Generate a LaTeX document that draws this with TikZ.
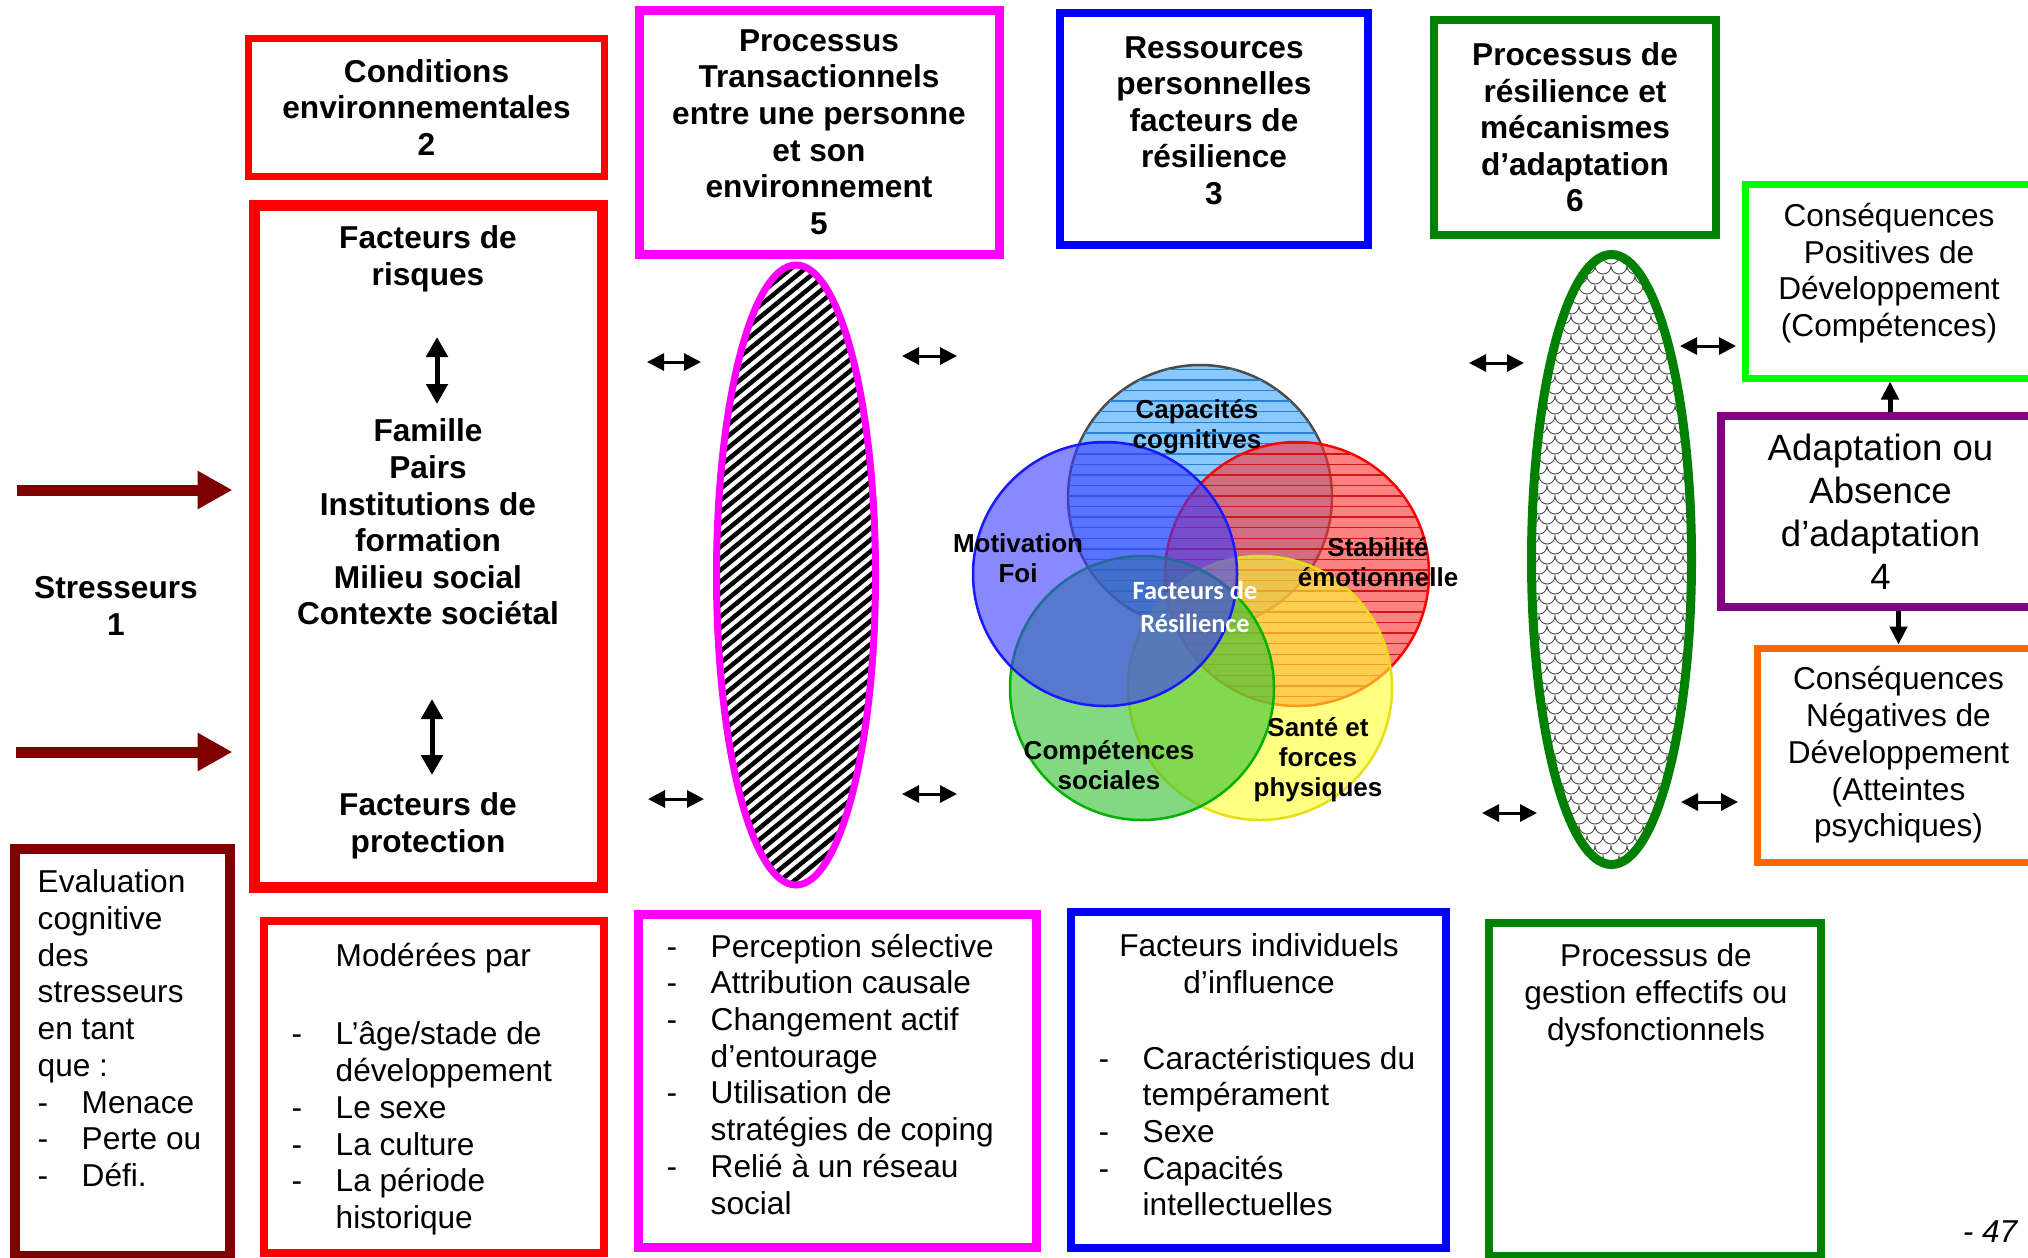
\documentclass[tikz,border=0pt]{standalone}
\usepackage{fontspec}
\setmainfont{Liberation Sans}
\newfontfamily\calib{Carlito}
\usetikzlibrary{shapes.geometric, arrows.meta, patterns}

\definecolor{dred}{HTML}{800000}
\definecolor{purered}{HTML}{FF0000}
\definecolor{mag}{HTML}{FF00FF}
\definecolor{pureblue}{HTML}{0000FF}
\definecolor{dgreen}{HTML}{008000}
\definecolor{lgreen}{HTML}{00FF00}
\definecolor{purp}{HTML}{800080}
\definecolor{orng}{HTML}{FF6600}
\definecolor{cogfill}{HTML}{3DA5FF}
\definecolor{cogline}{HTML}{2A80D0}
\definecolor{motfill}{HTML}{3A3AFF}
\definecolor{stabfill}{HTML}{FF3030}
\definecolor{stabline}{HTML}{D01818}
\definecolor{compfill}{HTML}{30C030}
\definecolor{santefill}{HTML}{FFFF30}

\tikzstyle{box} = [rectangle, draw, inner sep=0pt, align=center]
\tikzstyle{head} = [font=\fontsize{9}{10.4}\selectfont\bfseries, align=center, inner sep=0pt]
\tikzstyle{plain} = [font=\fontsize{9}{10.45}\selectfont, align=center, inner sep=0pt]
\tikzstyle{list} = [font=\fontsize{9}{10.45}\selectfont, align=left, inner sep=0pt, anchor=north west]
\tikzstyle{venn} = [circle, minimum size=26.4mm, fill opacity=0.6, line width=0.25mm]
\tikzstyle{vennlab} = [font=\fontsize{7.4}{8.5}\selectfont\bfseries, align=center, inner sep=0pt]
\tikzstyle{dbl} = [line width=0.3mm, {Triangle[length=1.7mm,width=1.7mm]}-{Triangle[length=1.7mm,width=1.7mm]}]
\tikzstyle{vdbl} = [line width=0.5mm, {Triangle[length=2mm,width=2.1mm]}-{Triangle[length=2mm,width=2.1mm]}]
\tikzstyle{stress} = [dred, line width=1.1mm, shorten >=1.6mm, -{Triangle[length=3.5mm,width=3.6mm]}]
\tikzstyle{updown} = [line width=0.5mm, -{Triangle[length=1.8mm,width=1.7mm]}]

\newcommand{\dashitem}{\makebox[4.4mm][l]{-}}
\newcommand{\dashgap}{\hspace*{4.4mm}}

\begin{document}
\begin{tikzpicture}[x=0.1mm, y=-0.1mm]
\useasboundingbox (0,0) rectangle (2028,1257);
\fill[white] (0,0) rectangle (2028,1257);

% header boxes
\node[box, head, draw=purered, line width=0.7mm, minimum width=35.6mm, minimum height=13.8mm] (cond) at (426.5,107.5) {Conditions\\environnementales\\2};
\node[box, head, draw=mag, line width=0.9mm, minimum width=36mm, minimum height=24.4mm] (trans) at (819,132) {Processus\\Transactionnels\\entre une personne\\et son\\environnement\\5};
\node[box, draw=pureblue, line width=0.8mm, minimum width=30.8mm, minimum height=23.2mm] (ress) at (1214,129) {};
\node[head] (ressTxt) at (1214,120.5) {Ressources\\personnelles\\facteurs de\\résilience\\3};
\node[box, head, draw=dgreen, line width=0.8mm, minimum width=28.2mm, minimum height=21.5mm] (resil) at (1575,127.5) {Processus de\\résilience et\\mécanismes\\d’adaptation\\6};

% consequences on the right
\node[box, draw=lgreen, line width=0.7mm, minimum width=29mm, minimum height=19.4mm] (pos) at (1890,281) {};
\node[plain] (posTxt) at (1889,273) {Conséquences\\Positives de\\Développement\\(Compétences)};
\node[box, draw=purp, line width=0.75mm, minimum width=31.9mm, minimum height=19.1mm, font=\fontsize{10.4}{12.2}\selectfont] (adapt) at (1880.5,511.5) {Adaptation ou\\Absence\\d’adaptation\\4};
\node[box, plain, draw=orng, line width=0.7mm, minimum width=28.3mm, minimum height=21.4mm] (neg) at (1898.5,755) {Conséquences\\Négatives de\\Développement\\(Atteintes\\psychiques)};
\draw[updown] (adapt.north -| pos.south) -- (pos.south);
\draw[updown] (adapt.south -| neg.north) -- (neg.north);

% stresseurs and environment
\node[head] (stres) at (116,606) {Stresseurs\\1};
\node[box, draw=purered, line width=1.1mm, minimum width=34.8mm, minimum height=68.2mm] (risk) at (428,546) {};
\node[head] (riskTop) at (428,259) {Facteurs de\\risques};
\node[head] (riskMid) at (428,522) {Famille\\Pairs\\Institutions de\\formation\\Milieu social\\Contexte sociétal};
\node[head] (riskBot) at (428,826) {Facteurs de\\protection};
\coordinate (v1a) at (437,337);
\coordinate (v1b) at (437,404);
\coordinate (v2a) at (432,699);
\coordinate (v2b) at (432,775);
\draw[vdbl] (v1a) -- (v1b);
\draw[vdbl] (v2a) -- (v2b);
\coordinate (st1) at (17,490);
\coordinate (st2) at (16,752);
\draw[stress] (st1) -- (st1 -| risk.west);
\draw[stress] (st2) -- (st2 -| risk.west);

% transactional ellipse
\begin{scope}
  \clip (796,575) ellipse [x radius=8mm, y radius=31mm];
  \foreach \k in {0,...,70}
    \draw[line width=0.45mm] (700,{262+\k*11.6}) -- ++(200,-164);
\end{scope}
\node[ellipse, draw=mag, line width=0.7mm, minimum width=15.9mm, minimum height=62mm] (ellT) at (796,575) {};

% resilience ellipse
\begin{scope}
  \clip (1611.5,559.5) ellipse [x radius=8mm, y radius=30.5mm];
  \foreach \j in {0,...,63}{
    \pgfmathsetmacro\off{mod(\j,2)*8}
    \draw[line width=0.09mm, black!70] ({1515+\off},{246+\j*10}) \foreach \i in {1,...,13}{arc[start angle=180, end angle=360, radius=0.8mm]};
  }
\end{scope}
\node[ellipse, draw=dgreen, line width=0.9mm, minimum width=16mm, minimum height=61mm] (ellR) at (1611.5,559.5) {};

% small double arrows
\foreach \n/\xa/\xb/\y in {1/647/701/362, 2/648/704/799, 3/902/957/356, 4/902/957/794,
                           5/1469/1524/363, 6/1482/1537/813, 7/1680/1736/346, 8/1681/1738/802}{
  \coordinate (dl\n) at (\xa,\y);
  \coordinate (dr\n) at (\xb,\y);
  \draw[dbl] (dl\n) -- (dr\n);
}

% resilience factors
\node[venn, fill=cogfill, draw=black!70, postaction={pattern=horizontal lines, pattern color=cogline}] (cog) at (1200,497) {};
\node[venn, fill=stabfill, draw=purered, postaction={pattern=horizontal lines, pattern color=stabline}] (stab) at (1297,574) {};
\node[venn, fill=santefill, draw=yellow!90!black] (sante) at (1260,688) {};
\node[venn, fill=compfill, draw=green!70!black] (comp) at (1142,688) {};
\node[venn, fill=motfill, draw=pureblue!90] (mot) at (1105,574) {};
\node[vennlab] (cogLab) at (1197,427) {Capacités\\cognitives};
\node[vennlab] (motLab) at (1018,558) {Motivation\\Foi};
\node[vennlab] (stabLab) at (1378,562) {Stabilité\\émotionnelle};
\node[vennlab] (compLab) at (1109,765) {Compétences\\sociales};
\node[vennlab] (santeLab) at (1318,760) {Santé et\\forces\\physiques};
\node[align=center, inner sep=0pt, text=white, font=\calib\bfseries\fontsize{7.5}{9.5}\selectfont] (resLab) at (1195,607) {Facteurs de\\Résilience};

% lower boxes
\node[box, draw=dred, line width=1mm, minimum width=21.5mm, minimum height=40.7mm] (eval) at (122.5,1052.5) {};
\node[list] (evalTxt) at (37,869) {Evaluation\\cognitive\\des\\stresseurs\\en tant\\que :\\\dashitem Menace\\\dashitem Perte ou\\\dashitem Défi.};

\node[box, draw=purered, line width=0.8mm, minimum width=34mm, minimum height=33.2mm] (mod) at (434,1087) {};
\node[list] (modTxt) at (291,942) {\dashgap Modérées par\\[12pt]\dashitem L’âge/stade de\\\dashgap développement\\\dashitem Le sexe\\\dashitem La culture\\\dashitem La période\\\dashgap historique};

\node[box, draw=mag, line width=0.9mm, minimum width=39.8mm, minimum height=33.3mm] (lst) at (837,1080.5) {};
\node[list] (lstTxt) at (666,933) {\dashitem Perception sélective\\\dashitem Attribution causale\\\dashitem Changement actif\\\dashgap d’entourage\\\dashitem Utilisation de\\\dashgap stratégies de coping\\\dashitem Relié à un réseau\\\dashgap social};

\node[box, draw=pureblue, line width=0.8mm, minimum width=37.5mm, minimum height=33.6mm] (indiv) at (1258.5,1080) {};
\node[plain] (indivTtl) at (1259,963.5) {Facteurs individuels\\d’influence};
\node[list] (indivTxt) at (1098,1045) {\dashitem Caractéristiques du\\\dashgap tempérament\\\dashitem Sexe\\\dashitem Capacités\\\dashgap intellectuelles};

\node[box, draw=dgreen, line width=0.8mm, minimum width=33.2mm, minimum height=33.3mm] (gest) at (1655,1089.5) {};
\node[plain, anchor=north] (gestTxt) at (1656,943) {Processus de\\gestion effectifs ou\\dysfonctionnels};

\node[font=\fontsize{9}{10.4}\selectfont\itshape, inner sep=0pt] (page) at (1990,1232) {- 47};
\end{tikzpicture}
\end{document}
